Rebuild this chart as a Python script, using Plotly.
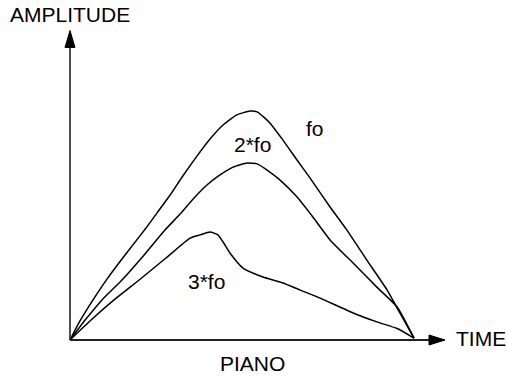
import plotly.graph_objects as go

# Data (time and amplitude in arbitrary units; fo peak = 100)
fo_time = [0, 2.9, 6.7, 11.0, 16.0, 22.1, 25.3, 29.1, 32.8, 36.9, 40.7, 44.5, 48.5, 52.3,
           54.4, 58.1, 61.9, 66.0, 69.8, 75.6, 80.5, 86.3, 92.2, 95.9, 100]
fo_amp = [0, 8.3, 17.5, 27.1, 37.1, 48.9, 55.5, 63.3, 71.6, 80.3, 87.8, 93.9, 98.3, 100,
          99.6, 94.8, 87.3, 78.6, 70.7, 58.1, 48.0, 34.9, 21.8, 11.8, 0.8]

f2_time = [0, 4.4, 9.3, 15.1, 21.8, 27.6, 32.0, 35.8, 39.8, 43.6, 47.4, 51.5, 54.4, 57.3,
           61.0, 66.0, 70.6, 75.6, 82.3, 89.2, 95.1, 100]
f2_amp = [0, 8.7, 17.5, 26.2, 37.6, 48.0, 55.0, 61.6, 67.7, 72.1, 75.5, 77.3, 76.9, 74.2,
          69.9, 62.4, 53.7, 43.7, 33.6, 23.1, 14.4, 0.8]

f3_time = [0, 5.8, 12.8, 20.1, 27.9, 34.9, 37.8, 40.7, 43.0, 44.5, 46.5, 50.3, 56.1,
           61.9, 66.9, 72.7, 82.3, 89.2, 95.1, 100]
f3_amp = [0, 8.3, 17.5, 26.2, 35.8, 44.5, 45.9, 47.2, 45.9, 42.8, 38.0, 31.4, 27.5,
          24.9, 21.8, 18.3, 11.8, 7.9, 5.0, 0.8]

series_names = ["fo", "2*fo", "3*fo"]
axis_titles = ["TIME", "AMPLITUDE"]
chart_title = "PIANO"

KX = 3.44   # px per time unit
KY = 2.29   # px per amplitude unit
OX, OY = 70, 340
W, H = 507, 376

def tx(px):
    return (px - OX) / KX

def ay(py):
    return (OY - py) / KY

fig = go.Figure()
line = dict(color="black", width=1.5, shape="spline", smoothing=0.5)
for xs, ys, nm in [(fo_time, fo_amp, series_names[0]),
                   (f2_time, f2_amp, series_names[1]),
                   (f3_time, f3_amp, series_names[2])]:
    fig.add_trace(go.Scatter(x=xs, y=ys, mode="lines", line=line, name=nm,
                             showlegend=False, hoverinfo="skip"))

# axis lines
x_tip = tx(445)
y_tip = ay(30.5)
fig.add_shape(type="line", x0=0, y0=0, x1=tx(430), y1=0, xref="x", yref="y",
              line=dict(color="#222", width=2))
fig.add_shape(type="line", x0=0, y0=0, x1=0, y1=ay(46), xref="x", yref="y",
              line=dict(color="#222", width=1.6))
# arrow heads (pixel-sized, anchored at the tips)
fig.add_shape(type="path", xref="x", yref="y", xsizemode="pixel", ysizemode="pixel",
              xanchor=x_tip, yanchor=0, path="M 0 0 L -16 5 L -16 -5 Z",
              fillcolor="black", line=dict(color="black", width=1))
fig.add_shape(type="path", xref="x", yref="y", xsizemode="pixel", ysizemode="pixel",
              xanchor=0, yanchor=y_tip, path="M 0 0 L -5 -17 L 5 -17 Z",
              fillcolor="black", line=dict(color="black", width=1))

font = dict(family="Liberation Sans, Arial, sans-serif", size=21, color="black")
labels = [
    (axis_titles[1], tx(70), ay(14)),
    (series_names[0], tx(315), ay(128.5)),
    (series_names[1], tx(252), ay(144)),
    (series_names[2], tx(206.5), ay(281)),
    (axis_titles[0], tx(480.5), ay(338)),
    (chart_title, tx(252.5), ay(363)),
]
for txt, x, y in labels:
    fig.add_annotation(text=txt, x=x, y=y, xref="x", yref="y", showarrow=False,
                       font=font, xanchor="center", yanchor="middle")

fig.update_layout(
    width=W, height=H,
    margin=dict(l=0, r=0, t=0, b=0),
    paper_bgcolor="white", plot_bgcolor="white",
    xaxis=dict(range=[tx(0), tx(W)], visible=False, fixedrange=True),
    yaxis=dict(range=[ay(H), ay(0)], visible=False, fixedrange=True),
)
fig.write_html("out.html",
               config={"displayModeBar": False, "staticPlot": True},
               post_script="document.body.style.margin='0';"
                           "document.body.style.overflow='hidden';")
